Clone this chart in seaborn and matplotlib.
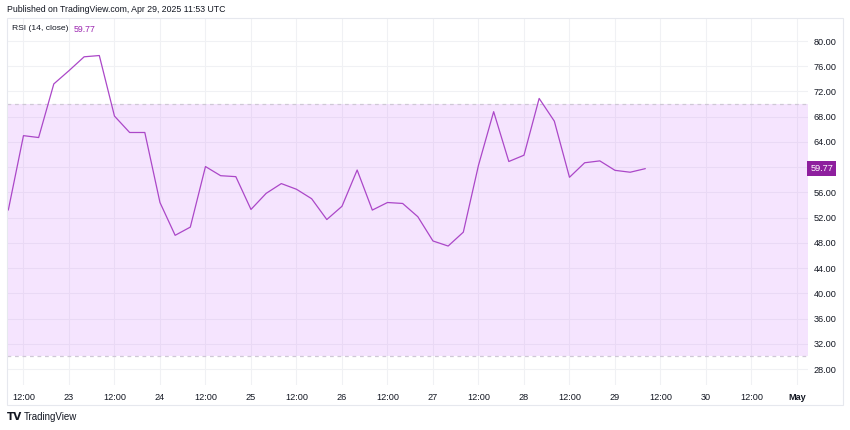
import matplotlib
matplotlib.use("Agg")
import matplotlib.pyplot as plt
import matplotlib.dates as mdates
import matplotlib.transforms as mtransforms
from matplotlib.patches import Rectangle
import pandas as pd
import seaborn as sns

# RSI(14, close), 4h candles starting Apr 22 08:00 UTC
start_time = "2025-04-22 08:00"
rsi_values = [
    53.2, 65.0, 64.7, 73.2,
    75.3, 77.5, 77.7, 68.1, 65.5, 65.5,
    54.4, 49.2, 50.5, 60.1, 58.65, 58.5,
    53.3, 55.85, 57.4, 56.5, 55.0, 51.7,
    53.8, 59.55, 53.2, 54.4, 54.25, 52.15,
    48.3, 47.5, 49.7, 60.3, 68.8, 60.9,
    61.9, 70.9, 67.3, 58.4, 60.7, 61.0,
    59.5, 59.2, 59.77,
]
last_value = 59.77
band_upper = 70
band_lower = 30

y_ticks = [28, 32, 36, 40, 44, 48, 52, 56, 60, 64, 68, 72, 76, 80]
x_tick_start = "2025-04-22 12:00"
x_tick_labels = ["12:00", "23", "12:00", "24", "12:00", "25", "12:00", "26",
                 "12:00", "27", "12:00", "28", "12:00", "29", "12:00", "30",
                 "12:00", "May"]

df = pd.DataFrame({
    "time": pd.date_range(start_time, periods=len(rsi_values), freq="4h"),
    "rsi": rsi_values,
})
x_ticks = pd.date_range(x_tick_start, periods=len(x_tick_labels), freq="12h")

sns.set_theme(style="white")
plt.rcParams["font.family"] = ["Liberation Sans", "DejaVu Sans"]

TEXT = "#131722"
GRID = "#f0f1f4"
LINE = "#AB47C8"
LABEL_BG = "#8E1F9E"

W, H = 850, 430
fig = plt.figure(figsize=(W / 100, H / 100), dpi=100)
ax = fig.add_axes([7 / W, 1 - 385 / H, (808 - 7) / W, (385 - 18) / H])

ax.set_axisbelow(True)
ax.grid(True, color=GRID, linewidth=0.8)
ax.axhspan(band_lower, band_upper, color="#C864FA", alpha=0.17, linewidth=0, zorder=1)
for lvl in (band_upper, band_lower):
    ax.axhline(lvl, color="#cfc8d6", linestyle=(0, (3, 3)), linewidth=0.9, zorder=2)

sns.lineplot(data=df, x="time", y="rsi", ax=ax, color=LINE, linewidth=0.9, zorder=3)

day0 = mdates.date2num(pd.Timestamp("2025-04-23"))
ax.set_xlim(day0 - 0.681, day0 + 8.121)
ax.set_ylim(25.47, 83.65)

ax.set_xticks(x_ticks)
ax.set_xticklabels(x_tick_labels)
for lab in ax.get_xticklabels():
    if lab.get_text() == "May":
        lab.set_fontweight("bold")
ax.set_yticks(y_ticks)
# the 60.00 label sits under the last-value tag, so leave it blank
ax.set_yticklabels(["" if abs(v - last_value) < 2 else f"{v:.2f}" for v in y_ticks])
ax.yaxis.tick_right()
ax.tick_params(axis="both", length=0, labelsize=6.6, labelcolor=TEXT)
ax.tick_params(axis="x", pad=6)
ax.tick_params(axis="y", pad=4)
ax.set_xlabel("")
ax.set_ylabel("")
for s in ax.spines.values():
    s.set_visible(False)

# last value tag on the price scale
trans = mtransforms.blended_transform_factory(ax.transAxes, ax.transData)
ax.text(1.003, last_value, f"{last_value:.2f}", transform=trans, ha="left", va="center",
        fontsize=6.6, color="white", clip_on=False,
        bbox=dict(boxstyle="square,pad=0.32", fc=LABEL_BG, ec="none"))

# outer frame
fig.add_artist(Rectangle((7 / W, 1 - 405 / H), (843 - 7) / W, (405 - 18) / H,
                         transform=fig.transFigure, fill=False,
                         edgecolor="#e6e8ee", linewidth=0.8))

fig.text(7 / W, 1 - 10 / H, "Published on TradingView.com, Apr 29, 2025 11:53 UTC",
         fontsize=6.3, color=TEXT, va="center", ha="left")
rsi_title = fig.text(12 / W, 1 - 29 / H, "RSI (14, close)", fontsize=6.1, color=TEXT,
                     va="center", ha="left")
fig.add_artist(plt.Annotation(f"{last_value:.2f}", xy=(1, 0.5), xycoords=rsi_title,
                              xytext=(4, 0), textcoords="offset points",
                              fontsize=6.3, color="#9C27B0", va="center", ha="left"))

fig.text(7 / W, 1 - 417 / H, "TV", fontsize=7.5, fontweight="heavy", color=TEXT,
         va="center", ha="left", family="DejaVu Sans")
fig.text(24 / W, 1 - 417 / H, "TradingView", fontsize=7.0, color=TEXT,
         va="center", ha="left")

fig.savefig("out.png", dpi=100)
plt.close(fig)
